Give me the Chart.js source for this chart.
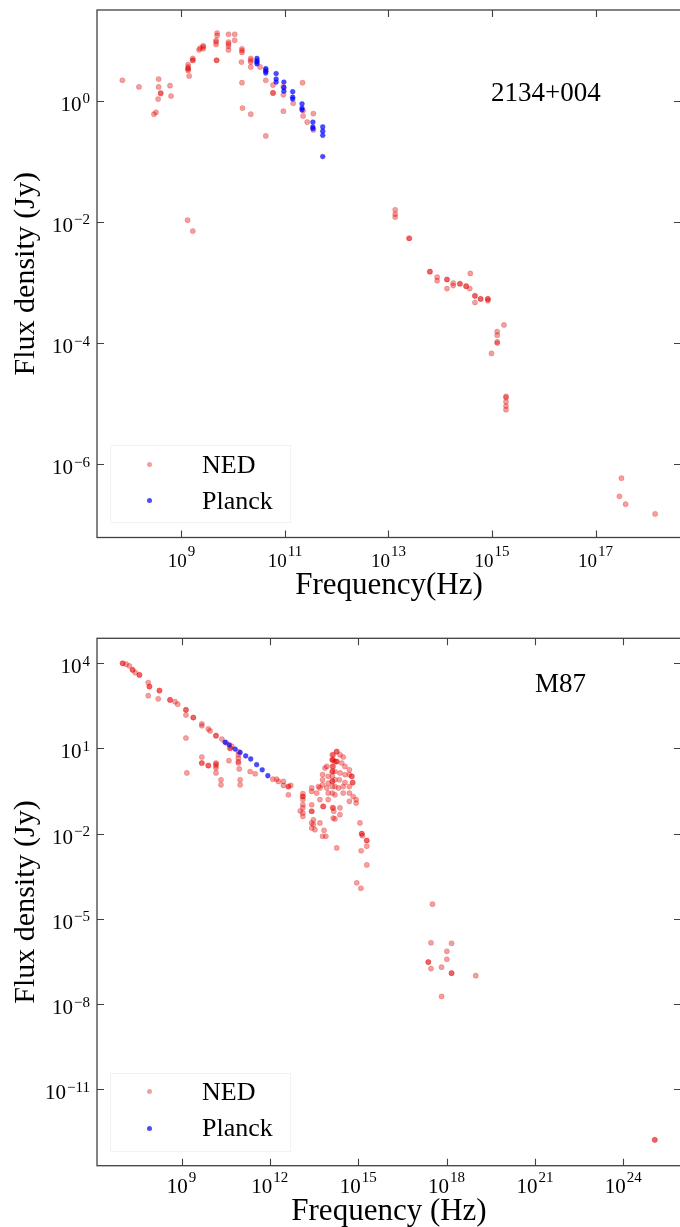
<!DOCTYPE html>
<html><head><meta charset="utf-8">
<script src="https://cdn.jsdelivr.net/npm/chart.js@4.4.0/dist/chart.umd.min.js"></script>
<style>
html,body{margin:0;padding:0;background:#fff;width:680px;height:1227px;overflow:hidden;}
#wrap{position:relative;width:680px;height:1227px;overflow:hidden;font-family:'Liberation Serif','Times New Roman',serif;}
canvas{position:absolute;left:0;}
.lbl{position:absolute;white-space:nowrap;line-height:1;color:#000;}
.leg{position:absolute;border:1px solid rgba(0,0,0,0.05);}
.dot{position:absolute;width:5px;height:5px;border-radius:50%;}
</style></head>
<body><div id="wrap">
<canvas id="c1" width="700" height="615" style="top:0;width:700px;height:615px"></canvas>
<canvas id="c2" width="700" height="612" style="top:615px;width:700px;height:612px"></canvas>

<div class="lbl" style="left:491px;top:79px;font-size:27px">2134+004</div>
<div class="leg" style="left:110px;top:445px;width:179px;height:76px"></div>
<div class="dot" style="left:147px;top:462px;background:rgba(225,0,0,0.38)"></div>
<div class="dot" style="left:147px;top:498px;background:rgba(0,0,255,0.7)"></div>
<div class="lbl" style="left:202px;top:452px;font-size:26px">NED</div>
<div class="lbl" style="left:202px;top:488px;font-size:26px">Planck</div>

<div class="lbl" style="left:535px;top:670px;font-size:27px">M87</div>
<div class="leg" style="left:110px;top:1073px;width:179px;height:77px"></div>
<div class="dot" style="left:147px;top:1089px;background:rgba(225,0,0,0.38)"></div>
<div class="dot" style="left:147px;top:1126px;background:rgba(0,0,255,0.7)"></div>
<div class="lbl" style="left:202px;top:1079px;font-size:26px">NED</div>
<div class="lbl" style="left:202px;top:1115px;font-size:26px">Planck</div>
</div>
<script>
// ---- data: [log10 frequency (Hz), log10 flux density (Jy)] ----
const ned2134 = [
 [7.86,0.34],[8.18,0.23],[8.56,0.36],[8.56,0.23],[8.60,0.12],[8.60,0.13],[8.55,0.03],[8.78,0.25],[8.80,0.08],[8.47,-0.22],[8.51,-0.19],
 [9.13,0.50],[9.13,0.53],[9.13,0.56],[9.13,0.60],[9.13,0.53],[9.15,0.41],
 [9.22,0.67],[9.22,0.70],[9.22,0.67],[9.34,0.84],[9.36,0.87],[9.42,0.89],[9.42,0.86],[9.42,0.91],
 [9.67,1.00],[9.67,0.97],[9.69,1.08],[9.69,1.12],[9.67,0.93],[9.68,0.67],[9.68,0.67],
 [9.91,1.10],[10.03,1.10],[9.91,0.94],[9.91,0.90],[9.91,0.84],[10.03,1.00],[9.91,0.97],
 [10.17,0.86],[10.17,0.80],[10.17,0.83],[10.16,0.64],[10.17,0.30],[10.18,-0.12],
 [10.34,-0.22],[10.34,0.70],[10.34,0.64],[10.34,0.56],[10.34,0.67],
 [10.52,0.56],[10.63,0.51],[10.63,0.34],[10.63,-0.58],[10.77,0.26],[10.77,0.13],[10.77,0.13],
 [10.97,0.23],[10.97,0.10],[10.97,-0.17],[11.16,-0.04],[11.34,0.30],[11.35,-0.16],[11.35,-0.25],[11.43,-0.35],[11.55,-0.21],[11.55,-0.48],
 [9.12,-1.97],[9.22,-2.15],
 [13.13,-1.80],[13.13,-1.87],[13.13,-1.92],[13.40,-2.27],[13.40,-2.27],
 [13.80,-2.82],[13.80,-2.82],[13.94,-2.91],[13.94,-2.97],[14.13,-2.95],[14.13,-2.95],[14.13,-3.10],[14.25,-3.01],[14.25,-3.05],
 [14.38,-3.02],[14.38,-3.02],[14.50,-3.06],[14.50,-3.06],[14.57,-3.10],[14.58,-2.85],[14.67,-3.22],[14.67,-3.22],[14.67,-3.33],
 [14.78,-3.27],[14.78,-3.27],[14.92,-3.27],[14.92,-3.27],[14.92,-3.30],
 [14.99,-4.17],[15.10,-3.81],[15.10,-3.87],[15.10,-3.98],[15.10,-4.00],[15.23,-3.70],
 [15.27,-4.88],[15.27,-4.90],[15.27,-4.97],[15.27,-5.04],[15.27,-5.10],
 [17.50,-6.23],[17.46,-6.53],[17.58,-6.66],[18.15,-6.82]
];
const planck2134 = [
 [10.46,0.70],[10.46,0.66],[10.46,0.64],[10.46,0.61],[10.63,0.53],[10.63,0.49],[10.63,0.46],
 [10.83,0.45],[10.83,0.36],[10.83,0.31],[10.98,0.31],[10.98,0.22],[10.98,0.16],
 [11.15,0.15],[11.15,0.06],[11.15,0.03],[11.33,-0.05],[11.33,-0.12],[11.33,-0.15],
 [11.54,-0.35],[11.54,-0.43],[11.54,-0.46],[11.73,-0.43],[11.73,-0.50],[11.73,-0.57],[11.73,-0.92]
];
const nedM87 = [
 [7.00,4.00],[7.00,4.00],[7.12,3.97],[7.23,3.91],[7.34,3.77],[7.34,3.77],[7.43,3.67],[7.57,3.59],[7.57,3.59],
 [7.87,3.32],[7.91,3.18],[7.91,3.18],[7.87,2.86],[8.21,2.75],[8.25,3.04],[8.25,3.04],[8.61,2.71],[8.61,2.71],[8.78,2.65],[8.87,2.56],
 [9.15,2.36],[9.15,2.36],[9.15,2.18],[9.40,2.09],[9.40,2.09],[9.15,1.37],[9.18,0.14],
 [9.69,1.87],[9.69,1.80],[9.91,1.69],[9.97,1.62],[10.17,1.45],[10.17,1.45],[10.37,1.33],[10.52,1.20],[10.70,1.08],
 [9.69,0.70],[9.69,0.49],[9.69,0.49],[9.91,0.40],[9.91,0.40],[10.17,0.49],[10.17,0.39],[10.17,0.31],[10.17,0.14],[10.17,0.45],
 [10.34,-0.10],[10.34,-0.28],[10.61,0.57],[10.65,1.01],[10.65,1.01],[10.93,0.89],[10.93,0.78],[10.93,0.66],[10.93,0.54],[10.93,0.49],[10.96,0.28],[10.99,-0.10],[10.99,-0.28],
 [11.33,0.19],[11.50,0.11],[12.10,-0.08],[12.23,-0.08],[12.29,-0.16],[12.46,-0.16],[12.46,-0.30],[12.63,-0.34],[12.63,-0.34],[12.71,-0.30],[12.63,-0.63],
 [13.12,-0.59],[13.12,-0.69],[13.12,-0.69],[13.12,-0.80],[13.12,-0.98],[13.12,-1.09],[13.12,-1.27],[13.12,-1.39],[13.03,-1.20],
 [13.42,-0.39],[13.42,-0.51],[13.42,-0.98],[13.42,-1.21],[13.42,-1.21],[13.42,-1.62],[13.42,-1.80],[13.53,-1.86],
 [13.70,-0.39],[13.70,-0.80],[13.70,-1.62],[13.79,-2.09],[13.81,-1.04],[13.81,-1.04],
 [13.98,-0.80],[13.98,-0.57],[13.98,0.02],[13.98,-0.22],
 [14.15,0.78],[14.15,0.60],[14.15,0.37],[14.21,0.54],[14.21,0.19],[14.21,-0.10],[14.21,-0.34],[14.21,-0.63],[14.15,-1.09],[14.15,-1.45],[14.27,-2.50],
 [13.48,-1.51],[13.48,-1.68],[13.59,-0.57],[13.65,-0.34],[13.84,-1.88],[13.90,-2.09],[13.79,0.08],[13.79,-0.10],[13.79,-0.28],[13.87,0.31],[13.93,0.37],[13.93,-0.39],
 [14.12,0.60],[14.12,0.37],[14.12,0.19],[14.12,0.02],[14.12,-0.16],[14.12,-0.34],[14.12,-0.57],[14.12,0.60],[14.12,0.19],[14.12,-0.16],[14.12,0.78],
 [14.13,-1.09],[14.17,-1.21],[14.21,-1.48],[14.27,0.89],[14.27,0.89],[14.27,0.54],[14.27,0.54],
 [14.33,-0.39],[14.36,-0.10],[14.38,0.14],[14.38,0.78],[14.44,0.49],[14.38,-1.09],[14.38,-1.33],
 [14.49,0.70],[14.49,-0.34],[14.49,-0.57],[14.55,0.37],[14.55,0.08],[14.55,-0.20],
 [14.70,0.25],[14.70,0.08],[14.70,-0.34],[14.70,-0.57],[14.70,-0.86],[14.78,0.02],[14.78,0.02],[14.81,-0.20],[14.81,-0.20],[14.83,-0.69],[14.93,-0.80],[14.93,-0.92],
 [15.06,-1.62],[15.12,-2.00],[15.12,-2.00],[15.14,-2.07],[15.29,-2.24],[15.29,-2.24],[15.29,-2.44],[15.10,-2.60],[15.29,-3.10],[14.95,-3.73],[15.09,-3.92],
 [17.52,-4.48],[17.47,-5.84],[18.17,-5.86],[18.01,-6.14],[18.01,-6.42],[17.38,-6.52],[17.38,-6.52],[17.47,-6.75],[17.83,-6.70],
 [18.17,-6.91],[18.17,-6.91],[18.99,-7.00],[17.83,-7.73],[25.07,-12.78],[25.07,-12.78]
];
const planckM87 = [
 [10.48,1.22],[10.62,1.13],[10.82,0.98],[10.99,0.86],[11.18,0.74],[11.35,0.63],[11.55,0.43],[11.74,0.25],[11.93,0.04]
];
// tick exponents
const topXTickExp = [9, 11, 13, 15, 17];
const topYTickExp = [0, -2, -4, -6];
const botXTickExp = [9, 12, 15, 18, 21, 24];
const botYTickExp = [4, 1, -2, -5, -8, -11];
// axis ranges (log10)
const topXRange = [7.37, 18.65], topYRange = [-7.21, 1.50];
const botXRange = [6.13, 25.96], botYRange = [-13.69, 4.88];

const toPts = arr => arr.map(p => ({x: Math.pow(10, p[0]), y: Math.pow(10, p[1])}));
const FAM = "'Liberation Serif','Times New Roman',serif";
Chart.defaults.font.family = FAM;
Chart.defaults.color = '#000';

const AXC = '#404040';
// draws "10" with a raised exponent; anchor is centre (x axis) or right edge (y axis)
function drawPow(ctx, e, ax, baseY, align, bs, es, raise) {
  const expTxt = String(e).replace('-', '\u2212');
  ctx.font = bs + 'px ' + FAM; const w1 = ctx.measureText('10').width;
  ctx.font = es + 'px ' + FAM; const w2 = ctx.measureText(expTxt).width;
  const total = w1 + 1 + w2;
  const x0 = align === 'center' ? ax - total / 2 : ax - total;
  ctx.textAlign = 'left'; ctx.textBaseline = 'alphabetic'; ctx.fillStyle = '#000';
  ctx.font = bs + 'px ' + FAM; ctx.fillText('10', x0, baseY);
  ctx.font = es + 'px ' + FAM; ctx.fillText(expTxt, x0 + w1 + 1, baseY - raise);
}
const framePlugin = {
  id: 'frame',
  afterDraw(chart, args, opts) {
    const {ctx, chartArea: a, scales: {x, y}} = chart;
    ctx.save();
    ctx.strokeStyle = AXC; ctx.lineWidth = 1.3;
    ctx.strokeRect(a.left, a.top, a.right - a.left, a.bottom - a.top);
    ctx.lineWidth = 1.1;
    ctx.beginPath();
    x.ticks.forEach(t => {
      const px = Math.round(x.getPixelForValue(t.value)) + 0.5;
      ctx.moveTo(px, a.bottom); ctx.lineTo(px, a.bottom - 7);
      ctx.moveTo(px, a.top); ctx.lineTo(px, a.top + 7);
    });
    y.ticks.forEach(t => {
      const py = Math.round(y.getPixelForValue(t.value)) + 0.5;
      ctx.moveTo(a.left, py); ctx.lineTo(a.left + 7, py);
      ctx.moveTo(a.right, py); ctx.lineTo(a.right - 7, py);
    });
    ctx.stroke();
    // tick labels (powers of ten)
    x.ticks.forEach(t => {
      const e = Math.round(Math.log10(t.value));
      drawPow(ctx, e, x.getPixelForValue(t.value), a.bottom + opts.xBase, 'center', opts.xbs, 15, 11);
    });
    y.ticks.forEach(t => {
      const e = Math.round(Math.log10(t.value));
      drawPow(ctx, e, a.left - 7, y.getPixelForValue(t.value) + 10, 'right', 21, 15, 7.5);
    });
    ctx.restore();
  }
};

function makeChart(id, c) {
  new Chart(document.getElementById(id), {
    type: 'scatter',
    data: {datasets: [
      {label: 'Planck', data: toPts(c.planck), order: 0, pointRadius: 2.4, pointBorderWidth: 0.5,
       pointBackgroundColor: 'rgba(0,0,255,0.7)', pointBorderColor: 'rgba(0,0,255,0.7)'},
      {label: 'NED', data: toPts(c.ned), order: 1, pointRadius: 2.6, pointBorderWidth: 0.5,
       pointBackgroundColor: 'rgba(225,0,0,0.38)', pointBorderColor: 'rgba(225,0,0,0.38)'}
    ]},
    options: {
      responsive: false, animation: false, devicePixelRatio: 1,
      layout: {padding: {top: c.padTop, right: 19, bottom: 0, left: 0}},
      plugins: {legend: {display: false}, tooltip: {enabled: false},
                frame: {xBase: c.xBase, xbs: c.xbs}},
      scales: {
        x: {
          type: 'logarithmic', position: 'bottom', bounds: 'data',
          min: Math.pow(10, c.xr[0]), max: Math.pow(10, c.xr[1]),
          grid: {display: false, drawTicks: false}, border: {display: false},
          ticks: {display: false},
          afterBuildTicks: s => { s.ticks = c.xt.map(e => ({value: Math.pow(10, e)})); },
          afterFit: s => { s.height = c.xH; s.paddingLeft = 0; s.paddingRight = 0; },
          title: {display: true, text: c.xTitle, color: '#000', font: {size: 31, lineHeight: 1}, padding: {top: 0, bottom: c.xTitlePad}}
        },
        y: {
          type: 'logarithmic', position: 'left', bounds: 'data',
          min: Math.pow(10, c.yr[0]), max: Math.pow(10, c.yr[1]),
          grid: {display: false, drawTicks: false}, border: {display: false},
          ticks: {display: false},
          afterBuildTicks: s => { s.ticks = c.yt.map(e => ({value: Math.pow(10, e)})); },
          afterFit: s => { s.width = 97; s.paddingTop = 0; s.paddingBottom = 0; },
          title: {display: true, text: 'Flux density (Jy)', color: '#000', font: {size: 30, lineHeight: 1}, padding: {top: 11, bottom: 0}}
        }
      }
    },
    plugins: [framePlugin]
  });
}

makeChart('c1', {ned: ned2134, planck: planck2134, xr: topXRange, yr: topYRange, xt: topXTickExp, yt: topYTickExp,
  padTop: 10, xH: 77.5, xTitle: 'Frequency(Hz)', xTitlePad: 14, xBase: 29, xbs: 19});
makeChart('c2', {ned: nedM87, planck: planckM87, xr: botXRange, yr: botYRange, xt: botXTickExp, yt: botYTickExp,
  padTop: 23.3, xH: 61.3, xTitle: 'Frequency (Hz)', xTitlePad: 0, xBase: 27.6, xbs: 21});
</script>
</body></html>
